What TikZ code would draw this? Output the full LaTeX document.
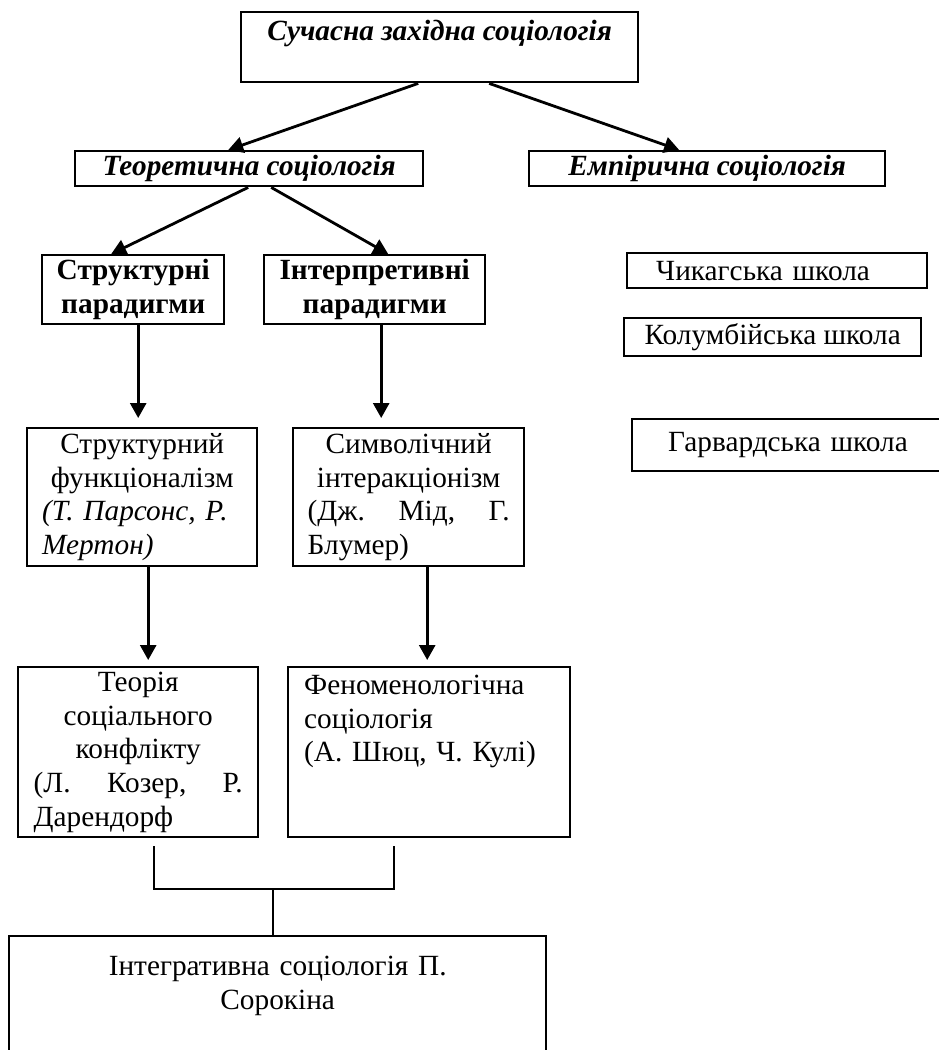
\documentclass[tikz,border=0pt]{standalone}
\usepackage{fontspec}
\setmainfont{Liberation Serif}
\usetikzlibrary{arrows.meta}

\begin{document}
\begin{tikzpicture}[x=1pt,y=-1pt,
        box/.style={draw, line width=2.4pt, anchor=north west, inner sep=0pt, align=center, font=\fontsize{29.3}{33.7}\selectfont},
        titlebox/.style={box, font=\fontsize{29.3}{33.7}\selectfont\bfseries\itshape},
        parbox/.style={box, font=\fontsize{29.3}{33.7}\selectfont\bfseries},
        arr/.style={line width=2.8pt, -{Triangle[length=15pt,width=16pt]}},
        link/.style={line width=2.4pt}]
        \useasboundingbox (0,0) rectangle (938,1050);

        \node[titlebox, minimum width=397pt, minimum height=70pt] (top) at (240,11) {Сучасна західна соціологія\\\mbox{}};
        \node[titlebox, minimum width=348pt, minimum height=35pt] (theo) at (74,150) {Теоретична соціологія};
        \node[titlebox, minimum width=356pt, minimum height=35pt] (emp) at (528,150) {Емпірична соціологія};

        \node[parbox, minimum width=182pt, minimum height=69pt] (struct) at (41,254) {Структурні\\парадигми};
        \node[parbox, minimum width=221pt, minimum height=69pt] (interp) at (263,254) {Інтерпретивні\\парадигми};

        \node[box, minimum width=300pt, minimum height=35pt, text width=242pt, align=left] (chic) at (626,252) {Чикагська школа};
        \node[box, minimum width=297pt, minimum height=38pt] (colum) at (623,317) {Колумбійська школа};
        \node[box, minimum width=329pt, minimum height=52pt, text width=257pt, align=left] (harv) at (631,418) {Гарвардська школа};

        \node[box, minimum width=230pt, minimum height=138pt, text width=200pt] (sfunc) at (26,427)
            {Структурний\\функціоналізм\\\makebox[200pt][l]{\itshape (Т. Парсонс, Р.}\\\makebox[200pt][l]{\itshape Мертон)}};
        \node[box, minimum width=231pt, minimum height=138pt, text width=202pt] (symv) at (292,427)
            {Символічний\\інтеракціонізм\\\makebox[202pt][s]{(Дж.\hfill Мід,\hfill Г.}\\\makebox[202pt][l]{Блумер)}};

        \node[box, minimum width=240pt, minimum height=170pt, text width=209pt] (teoria) at (17,666)
            {Теорія\\соціального\\конфлікту\\\makebox[209pt][s]{(Л.\hfill Козер,\hfill Р.}\\\makebox[209pt][l]{Дарендорф}};
        \node[box, minimum width=282pt, minimum height=170pt, text width=250pt, align=left] (phen) at (287,666)
            {Феноменологічна\\соціологія\\(А. Шюц, Ч. Кулі)\\\mbox{}\\\mbox{}};

        \node[box, minimum width=537pt, minimum height=160pt, text width=500pt] (integ) at (8,935)
            {Інтегративна соціологія П.\\Сорокіна\\\mbox{}\\\mbox{}};

        \draw[arr] ([xshift=-21.5pt]top.south) -- ([xshift=-21pt]theo.north);
        \draw[arr] ([xshift=49.5pt]top.south) -- ([xshift=-28pt]emp.north);
        \draw[arr] ([xshift=-1pt]theo.south) -- ([xshift=-22pt]struct.north);
        \draw[arr] ([xshift=22pt]theo.south) -- ([xshift=13.5pt]interp.north);

        \draw[arr] ([xshift=5pt]struct.south) -- ([xshift=-4pt,yshift=9pt]sfunc.north);
        \draw[arr] ([xshift=6.5pt]interp.south) -- ([xshift=-27.5pt,yshift=9pt]symv.north);
        \draw[arr] ([xshift=6pt]sfunc.south) -- ([xshift=10pt,yshift=6pt]teoria.north);
        \draw[arr] ([xshift=18.5pt]symv.south) -- ([xshift=-2pt,yshift=6pt]phen.north);

        \coordinate (j) at (273,889);
        \draw[link] ([xshift=16pt,yshift=-8pt]teoria.south) |- (j) -| ([xshift=-35pt,yshift=-8pt]phen.south);
        \draw[link] (j) -- (j |- integ.north);
    \end{tikzpicture}
\end{document}
